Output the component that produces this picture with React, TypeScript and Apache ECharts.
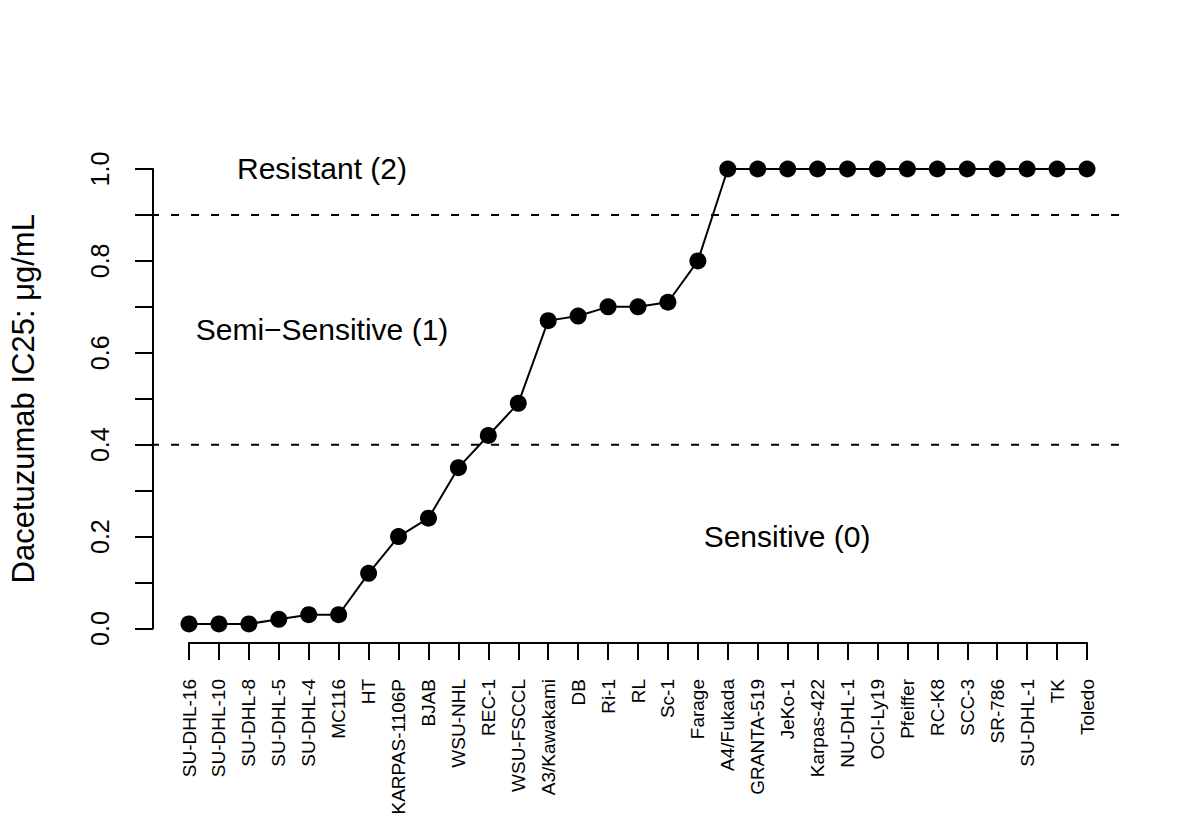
import React, { useEffect, useRef } from "react";
import * as echarts from "echarts";

const categories = [
  "SU-DHL-16", "SU-DHL-10", "SU-DHL-8", "SU-DHL-5", "SU-DHL-4", "MC116", "HT",
  "KARPAS-1106P", "BJAB", "WSU-NHL", "REC-1", "WSU-FSCCL", "A3/Kawakami", "DB",
  "Ri-1", "RL", "Sc-1", "Farage", "A4/Fukada", "GRANTA-519", "JeKo-1", "Karpas-422",
  "NU-DHL-1", "OCI-Ly19", "Pfeiffer", "RC-K8", "SCC-3", "SR-786", "SU-DHL-1", "TK", "Toledo",
];

const ic25 = [
  0.01, 0.01, 0.01, 0.02, 0.03, 0.03, 0.12, 0.2, 0.24, 0.35, 0.42, 0.49, 0.67, 0.68,
  0.7, 0.7, 0.71, 0.8, 1.0, 1.0, 1.0, 1.0, 1.0, 1.0, 1.0, 1.0, 1.0, 1.0, 1.0, 1.0, 1.0,
];

const thresholds = [0.4, 0.9];

const annotationLabels = ["Resistant (2)", "Semi\u2212Sensitive (1)", "Sensitive (0)"];
const annotationX = [4.5, 4.5, 20];
const annotationY = [1.0, 0.65, 0.2];

const yTicks = [0, 0.2, 0.4, 0.6, 0.8, 1.0];

// plot-region extents (R-style 4% padding) in index / value units
const xRegion = [-1.2, 31.2];
const yRegion = [-0.0296, 1.0396];

const FONT = "Liberation Sans, Arial, Helvetica, sans-serif";

export default function App() {
  const ref = useRef<HTMLDivElement>(null);

  useEffect(() => {
    if (!ref.current) return;
    const chart = echarts.init(ref.current, null, { renderer: "svg" });

    const thresholdSeries = thresholds.map((t) => ({
      type: "line",
      xAxisIndex: 0,
      yAxisIndex: 0,
      data: [
        [xRegion[0], t],
        [xRegion[1], t],
      ],
      showSymbol: false,
      symbol: "none",
      silent: true,
      z: 1,
      lineStyle: { color: "#000", width: 2, type: [8, 12] },
    }));

    const option = {
      animation: false,
      backgroundColor: "#fff",
      textStyle: { fontFamily: FONT },
      grid: [
        { left: 151, right: 77, top: 150.8, bottom: 188.9, containLabel: false },
        { left: 187, right: 113, top: 169, bottom: 202.5, containLabel: false },
      ],
      xAxis: [
        { gridIndex: 0, type: "value", min: xRegion[0], max: xRegion[1], show: false },
        {
          gridIndex: 1,
          type: "category",
          data: categories,
          boundaryGap: false,
          offset: 14.5,
          axisLine: { show: true, onZero: false, lineStyle: { color: "#000", width: 2 } },
          axisTick: { show: true, interval: 0, length: 17, lineStyle: { color: "#000", width: 2 } },
          axisLabel: {
            interval: 0,
            rotate: 90,
            margin: 36,
            fontSize: 19,
            color: "#000",
            fontFamily: FONT,
          },
          splitLine: { show: false },
        },
      ],
      yAxis: [
        { gridIndex: 0, type: "value", min: yRegion[0], max: yRegion[1], show: false },
        {
          gridIndex: 1,
          type: "value",
          min: 0,
          max: 1,
          interval: 0.1,
          offset: 36,
          name: "Dacetuzumab IC25: \u03bcg/mL",
          nameLocation: "middle",
          nameRotate: 90,
          nameGap: 114,
          nameTextStyle: { fontSize: 31, color: "#000", fontFamily: FONT },
          axisLine: { show: true, onZero: false, lineStyle: { color: "#000", width: 2 } },
          axisTick: { show: true, length: 18, lineStyle: { color: "#000", width: 2 } },
          axisLabel: {
            rotate: 90,
            margin: 41,
            fontSize: 25,
            color: "#000",
            fontFamily: FONT,
            align: "center",
            verticalAlign: "bottom",
            formatter: (v: number) =>
              yTicks.some((t) => Math.abs(t - v) < 1e-6) ? v.toFixed(1) : "",
          },
          splitLine: { show: false },
        },
      ],
      series: [
        ...thresholdSeries,
        {
          type: "line",
          xAxisIndex: 1,
          yAxisIndex: 1,
          data: ic25,
          symbol: "circle",
          symbolSize: 17,
          showSymbol: true,
          clip: false,
          z: 3,
          itemStyle: { color: "#000" },
          lineStyle: { color: "#000", width: 2 },
        },
        {
          type: "scatter",
          xAxisIndex: 0,
          yAxisIndex: 0,
          symbolSize: 0,
          silent: true,
          itemStyle: { color: "#000", opacity: 1 },
          data: annotationLabels.map((name, i) => ({
            name,
            value: [annotationX[i], annotationY[i]],
          })),
          label: {
            show: true,
            position: [0, 0],
            align: "center",
            verticalAlign: "middle",
            formatter: "{b}",
            fontSize: 30,
            color: "#000",
            textBorderWidth: 0,
            fontFamily: FONT,
          },
        },
      ],
    };

    chart.setOption(option as any);
    return () => chart.dispose();
  }, []);

  return (
    <div
      ref={ref}
      style={{ position: "fixed", left: 0, top: 0, width: 1200, height: 831, background: "#fff" }}
    />
  );
}
